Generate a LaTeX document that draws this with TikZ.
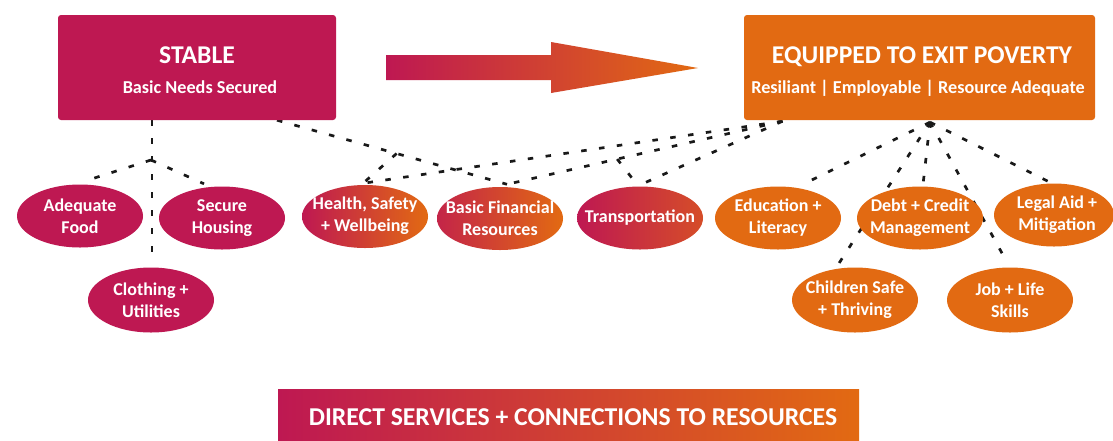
\documentclass[tikz,border=0pt]{standalone}
\usepackage{fontspec}
\setmainfont{Carlito}
\usetikzlibrary{shapes.geometric,calc}
\definecolor{crim}{RGB}{190,24,82}
\definecolor{orng}{RGB}{226,106,18}
\pgfdeclarelayer{paper}
\pgfdeclarelayer{bg}
\pgfsetlayers{paper,bg,main}
\begin{document}
\begin{tikzpicture}[x=1pt,y=-1pt,
  box/.style={rectangle, rounded corners=3pt, inner sep=0pt, draw=none},
  title/.style={text=white, font=\bfseries\fontsize{25.6}{30}\selectfont, inner sep=0pt},
  sub/.style={text=white, font=\bfseries\fontsize{18.2}{22}\selectfont, inner sep=0pt},
  oval/.style={ellipse, minimum width=126pt, minimum height=63pt, inner sep=0pt},
  otext/.style={inner sep=0pt, align=center, text=white, font=\bfseries\fontsize{18}{22}\selectfont},
  link/.style={draw=black!90, line width=2.7pt, dash pattern=on 5.5pt off 12.5pt}]
\useasboundingbox (0,0) rectangle (1113,440);
\begin{pgfonlayer}{paper}
\fill[white] (0,0) rectangle (1113,440);
\end{pgfonlayer}

% top boxes
\node[box, fill=crim, minimum width=278pt, minimum height=105pt] (stable) at (197,67.5) {};
\node[title, anchor=base] (stableT) at (197,63) {STABLE};
\node[sub, anchor=base] (stableS) at (200,93) {Basic Needs Secured};
\node[box, fill=orng, minimum width=351pt, minimum height=105pt] (equip) at (919.5,67.5) {};
\node[title, anchor=base] (equipT) at (922,63) {EQUIPPED TO EXIT POVERTY};
\node[sub, anchor=base] (equipS) at (918,93) {Resiliant | Employable | Resource Adequate};

% big arrow
\shade[left color=crim, right color=orng] (386,55) -- (551,55) -- (551,42) -- (698,68) -- (551,93) -- (551,80) -- (386,80) -- cycle;

% ellipses
\node[oval, fill=crim] (food) at (80,216) {};
\node[otext] (foodL) at (food) {Adequate\\Food};
\node[oval, fill=crim] (housing) at (222,218) {};
\node[otext] (housingL) at (housing) {Secure\\Housing};
\node[oval, fill=crim, minimum height=65pt] (clothing) at (151,300) {};
\node[otext] (clothingL) at (clothing) {Clothing +\\Utilities};
\node[oval, left color=crim, right color=orng] (health) at (365,216.5) {};
\node[otext] (healthL) at (365,216) {Health, Safety\\+ Wellbeing};
\node[oval, left color=crim!85!orng, right color=orng] (bfr) at (500,218.5) {};
\node[otext] (bfrL) at (bfr) {Basic Financial\\Resources};
\node[oval, left color=crim, right color=crim!35!orng] (transport) at (640,218) {};
\node[otext] (transportL) at (640,218) {Transportation};
\node[oval, fill=orng] (edu) at (778,218) {};
\node[otext] (eduL) at (edu) {Education +\\Literacy};
\node[oval, fill=orng] (debt) at (920,218) {};
\node[otext] (debtL) at (debt) {Debt + Credit\\Management};
\node[oval, fill=orng, minimum width=120pt] (legal) at (1054,215) {};
\node[otext] (legalL) at (1057,215) {Legal Aid +\\Mitigation};
\node[oval, fill=orng, minimum height=65pt] (children) at (855,300) {};
\node[otext] (childrenL) at (children) {Children Safe\\+ Thriving};
\node[oval, fill=orng, minimum height=65pt] (job) at (1010,300) {};
\node[otext] (jobL) at (job) {Job + Life\\Skills};

% bottom bar
\node[rectangle, inner sep=0pt, left color=crim, right color=orng, minimum width=581pt, minimum height=52pt] (bar) at (568.5,415) {};
\node[title, font=\bfseries\fontsize{25.7}{30}\selectfont, anchor=base] (barT) at (573,425) {DIRECT SERVICES + CONNECTIONS TO RESOURCES};

% connector end points
\coordinate (sA) at ([xshift=-45pt]stable.south);
\coordinate (sB) at ([xshift=80pt]stable.south);
\coordinate (j1) at (151,160);
\coordinate (foodT) at ([xshift=12pt,yshift=5.5pt]food.north);
\coordinate (housT) at ([xshift=-18pt,yshift=2.5pt]housing.north);
\coordinate (clotT) at ([xshift=1pt,yshift=6pt]clothing.north);
\coordinate (healT) at ([xshift=-2pt,yshift=1.5pt]health.north);
\coordinate (bfrT) at ([xshift=7pt,yshift=2.5pt]bfr.north);
\coordinate (tranT) at ([xshift=-2pt,yshift=0.5pt]transport.north);
\coordinate (eA) at ([xshift=-137pt,yshift=-1pt]equip.south);
\coordinate (eB) at ([xshift=10.5pt,yshift=-2pt]equip.south);
\coordinate (eduT) at ([xshift=30pt,yshift=4.5pt]edu.north);
\coordinate (debtT) at ([xshift=3pt,yshift=1.5pt]debt.north);
\coordinate (chilT) at ([xshift=-17pt,yshift=2.5pt]children.north);
\coordinate (jobT) at ([xshift=-3pt,yshift=5pt]job.north);
\coordinate (legT) at ([xshift=-3pt,yshift=0.5pt]legal.north);
\coordinate (k1) at ($(sB)!0.52!(bfrT)$);
\coordinate (k2) at ($(eA)!0.6!(bfrT)$);

\begin{pgfonlayer}{bg}
\draw[link] (sA) -- (clotT);
\draw[link] (j1) -- (foodT);
\draw[link] (j1) -- (housT);
\draw[link] (sB) -- (bfrT);
\draw[link] (k1) -- (healT);
\draw[link] (eA) -- (healT);
\draw[link] (eA) -- (bfrT);
\draw[link] (k2) -- (tranT);
\draw[link] (eA) -- (tranT);
\draw[link] (eB) -- (eduT);
\draw[link] (eB) -- (debtT);
\draw[link] (eB) -- (chilT);
\draw[link] (eB) -- (jobT);
\draw[link] (eB) -- (legT);
\end{pgfonlayer}
\end{tikzpicture}
\end{document}
